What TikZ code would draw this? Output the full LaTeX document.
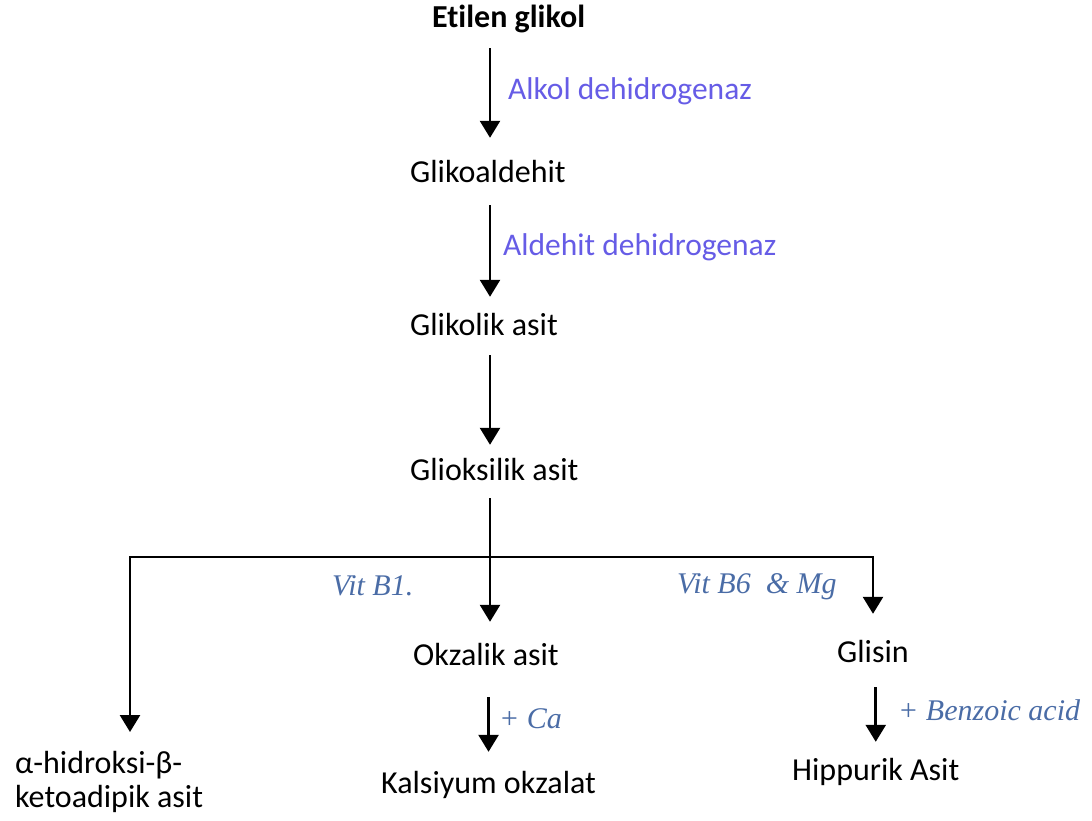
\documentclass[tikz,border=0pt]{standalone}
\usepackage{fontspec}
\setmainfont[Ligatures=NoCommon]{Carlito}
\newfontfamily\cofactorfont{Liberation Serif}
\usetikzlibrary{arrows.meta}
\definecolor{enzyme}{RGB}{102,92,230}
\definecolor{cofactor}{RGB}{74,108,166}

\begin{document}
\begin{tikzpicture}[x=1pt,y=-1pt,
  compound/.style={font=\fontsize{32}{34}\selectfont, inner sep=0pt,
    text height=22pt, text depth=7pt, anchor=base west},
  enzymelbl/.style={font=\fontsize{31.5}{36}\selectfont, text=enzyme,
    inner sep=0pt, anchor=base west},
  cofactorlbl/.style={font=\cofactorfont\itshape\fontsize{30}{36}\selectfont,
    text=cofactor, inner sep=0pt, anchor=base west},
  tip/.tip={Triangle[width=20pt,length=17pt]},
  flow/.style={line width=2.6pt, -tip},
  trunk/.style={line width=2.6pt}]
\useasboundingbox (0,0) rectangle (1092,821);

% compounds
\node[compound, font=\bfseries\fontsize{32}{34}\selectfont] (et) at (432,28) {Etilen glikol};
\node[compound] (ga)  at (410,183) {Glikoaldehit};
\node[compound] (gla) at (410,335) {Glikolik asit};
\node[compound] (glx) at (410,480) {Glioksilik asit};
\node[compound] (okz) at (413,665) {Okzalik asit};
\node[compound] (gls) at (837,662) {Glisin};
\node[compound] (kal) at (381,793) {Kalsiyum okzalat};
\node[compound] (hip) at (792,780) {Hippurik Asit};
\node[compound, anchor=north west, align=left, text height=, text depth=] (hk) at (15,751)
  {α-hidroksi-β-\\ketoadipik asit};

% enzymes and cofactors
\node[enzymelbl] (alk) at (508,100) {Alkol dehidrogenaz};
\node[enzymelbl] (ald) at (503,255) {Aldehit dehidrogenaz};
\node[cofactorlbl] (vb1) at (332,595) {Vit B1.};
\node[cofactorlbl] (vb6) at (677,593) {Vit B6\ \ \& Mg};
\node[cofactorlbl] (ca)  at (499,728) {+ Ca};
\node[cofactorlbl] (bz)  at (898,720) {+ Benzoic acid};

% branch points
\coordinate (col)  at (490,0);
\coordinate (bar)  at (490,557);
\coordinate (barL) at (130,557);
\coordinate (barR) at (873,557);

% main chain
\draw[flow, shorten <=13pt, shorten >=23pt] (et.south -| col) -- (ga.north -| col);
\draw[flow, shorten <=15pt, shorten >=16pt] (ga.south -| col) -- (gla.north -| col);
\draw[flow, shorten <=13pt, shorten >=13pt] (gla.south -| col) -- (glx.north -| col);

% split into three routes
\draw[trunk, shorten <=11pt] (glx.south -| col) -- (bar);
\draw[line width=2.6pt, line join=miter, tip-tip, shorten <=26pt, shorten >=19pt]
  (gls.north -| barR) -- (barR) -- (barL) -- (hk.north -| barL);
\draw[flow, shorten >=21pt] (bar) -- (okz.north -| bar);

% final steps
\draw[flow, shorten <=25pt, shorten >=19pt] (okz.south -| kal.north) -- (kal.north);
\draw[flow, shorten <=18pt, shorten >=16pt] (gls.south -| hip.north) -- (hip.north);
\end{tikzpicture}
\end{document}
